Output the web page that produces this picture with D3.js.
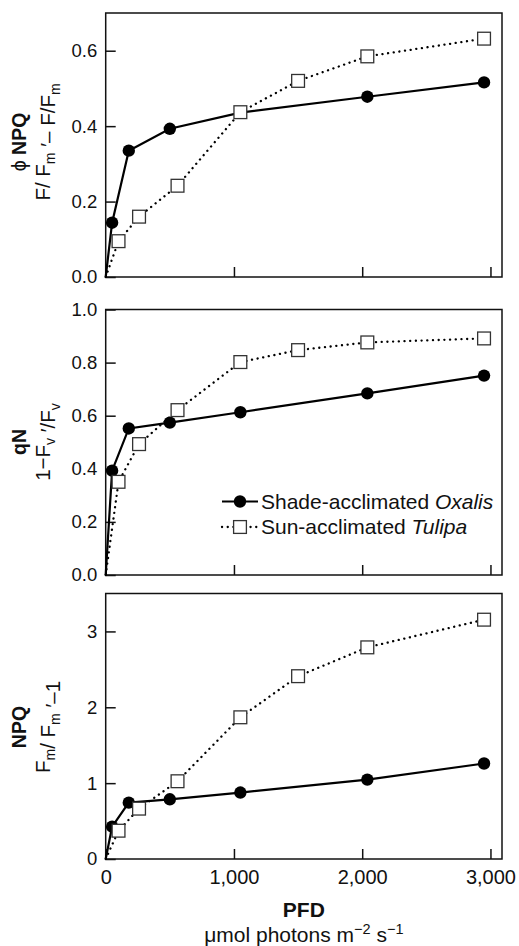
<!DOCTYPE html>
<html>
<head>
<meta charset="utf-8">
<script src="https://cdn.jsdelivr.net/npm/d3@7"></script>
<style>
  html, body { margin: 0; padding: 0; background: #fff; }
  svg { display: block; font-family: "Liberation Sans", Arial, Helvetica, sans-serif; }
</style>
</head>
<body>
<svg id="chart" width="519" height="946"></svg>
<script>
// ---- data ----
const pfdOxalis = [0, 50, 180, 500, 1050, 2040, 2950];
const pfdTulipa = [0, 100, 260, 560, 1050, 1500, 2040, 2950];

const phiNPQOxalis = [0, 0.144, 0.335, 0.393, 0.436, 0.478, 0.516];
const phiNPQTulipa = [0, 0.095, 0.160, 0.242, 0.437, 0.520, 0.585, 0.632];

const qNOxalis = [0, 0.393, 0.552, 0.574, 0.613, 0.684, 0.751];
const qNTulipa = [0, 0.351, 0.493, 0.621, 0.802, 0.847, 0.876, 0.891];

const npqOxalis = [0, 0.426, 0.743, 0.787, 0.876, 1.047, 1.259];
const npqTulipa = [0, 0.373, 0.664, 1.025, 1.868, 2.410, 2.790, 3.155];

const xTicks = [0, 1000, 2000, 3000];
const phiTicks = [0, 0.2, 0.4, 0.6];
const qNTicks = [0, 0.2, 0.4, 0.6, 0.8, 1.0];
const npqTicks = [0, 1, 2, 3];

const legendLabels = ["Shade-acclimated ", "Sun-acclimated "];
const legendGenus = ["Oxalis", "Tulipa"];

// ---- layout ----
const svg = d3.select("#chart");
const x = d3.scaleLinear().domain([0, 3090]).range([105.7, 502]);

const panels = [
  { oxalis: phiNPQOxalis, tulipa: phiNPQTulipa, ticks: phiTicks, fmt: d3.format(".1f"),
    domain: [0, 0.7], range: [277, 13], xLabels: false },
  { oxalis: qNOxalis, tulipa: qNTulipa, ticks: qNTicks, fmt: d3.format(".1f"),
    domain: [0, 1.0], range: [575, 309.5], xLabels: false },
  { oxalis: npqOxalis, tulipa: npqTulipa, ticks: npqTicks, fmt: d3.format("d"),
    domain: [0, 3.5], range: [859, 593.5], xLabels: true }
];

panels.forEach((p, i) => {
  const y = d3.scaleLinear().domain(p.domain).range(p.range);
  const g = svg.append("g");

  // frame
  g.append("rect")
    .attr("x", x.range()[0]).attr("y", p.range[1])
    .attr("width", x.range()[1] - x.range()[0])
    .attr("height", p.range[0] - p.range[1])
    .attr("fill", "none").attr("stroke", "#111").attr("stroke-width", 1.5);

  // y axis
  const ya = g.append("g").attr("transform", `translate(${x.range()[0]},0)`)
    .call(d3.axisLeft(y).tickValues(p.ticks).tickFormat(p.fmt)
      .tickSizeInner(-10).tickSizeOuter(0).tickPadding(8.5));
  ya.select(".domain").remove();
  ya.selectAll("line").attr("stroke", "#111").attr("stroke-width", 1.5);
  ya.selectAll("text").attr("font-size", 18.5).attr("fill", "#111")
    .attr("font-family", "Liberation Sans, Arial, sans-serif");

  // x axis
  const xa = g.append("g").attr("transform", `translate(0,${p.range[0]})`)
    .call(d3.axisBottom(x).tickValues(xTicks).tickFormat(p.xLabels ? d3.format(",") : () => "")
      .tickSizeInner(-10).tickSizeOuter(0).tickPadding(11));
  xa.select(".domain").remove();
  xa.selectAll("line").attr("stroke", "#111").attr("stroke-width", 1.5);
  xa.selectAll("text").attr("font-size", 20).attr("fill", "#111")
    .attr("font-family", "Liberation Sans, Arial, sans-serif");

  const line = d3.line().x(d => x(d[0])).y(d => y(d[1]));
  const oxData = pfdOxalis.map((v, k) => [v, p.oxalis[k]]);
  const tuData = pfdTulipa.map((v, k) => [v, p.tulipa[k]]);

  g.append("path").datum(oxData).attr("d", line)
    .attr("fill", "none").attr("stroke", "#000").attr("stroke-width", 2.2);
  g.append("path").datum(tuData).attr("d", line)
    .attr("fill", "none").attr("stroke", "#000").attr("stroke-width", 2.3)
    .attr("stroke-dasharray", "0.1,5.6").attr("stroke-linecap", "round");

  g.selectAll("circle.ox").data(oxData.filter(d => d[0] > 0)).enter()
    .append("circle").attr("class", "ox")
    .attr("cx", d => x(d[0])).attr("cy", d => y(d[1])).attr("r", 6.2)
    .attr("fill", "#000");
  const s = 12.8;
  g.selectAll("rect.tu").data(tuData.filter(d => d[0] > 0)).enter()
    .append("rect").attr("class", "tu")
    .attr("x", d => x(d[0]) - s / 2).attr("y", d => y(d[1]) - s / 2)
    .attr("width", s).attr("height", s)
    .attr("fill", "#fff").attr("stroke", "#333").attr("stroke-width", 1.3);
});

// ---- y-axis titles ----
function yTitle(cy, line1, line2) {
  const t1 = svg.append("text").attr("transform", `translate(26,${cy}) rotate(-90)`)
    .attr("text-anchor", "middle").attr("font-size", 19.5).attr("fill", "#111");
  line1.forEach(seg => t1.append("tspan").attr("font-weight", seg.b ? "bold" : "normal").text(seg.t));
  const t2 = svg.append("text").attr("transform", `translate(50,${cy}) rotate(-90)`)
    .attr("text-anchor", "middle").attr("font-size", 20.5).attr("fill", "#111");
  line2.forEach(seg => {
    if (seg.sub) {
      t2.append("tspan").attr("font-size", 14).attr("dy", 5).text(seg.t);
      t2.append("tspan").attr("dy", -5).text("");
    } else {
      t2.append("tspan").text(seg.t);
    }
  });
}
yTitle(142, [{ t: "\u03d5 " }, { t: "NPQ", b: true }],
  [{ t: "F/ F" }, { t: "m", sub: true }, { t: " \u2032\u2013 F/F" }, { t: "m", sub: true }]);
yTitle(442, [{ t: "qN", b: true }],
  [{ t: "1\u2212F" }, { t: "v", sub: true }, { t: " \u2032/F" }, { t: "v", sub: true }]);
yTitle(727, [{ t: "NPQ", b: true }],
  [{ t: "F" }, { t: "m", sub: true }, { t: "/ F" }, { t: "m", sub: true }, { t: " \u2032\u20131" }]);

// ---- x-axis title ----
const xc = (x.range()[0] + x.range()[1]) / 2;
svg.append("text").attr("x", xc).attr("y", 917).attr("text-anchor", "middle")
  .attr("font-size", 21).attr("font-weight", "bold").attr("fill", "#111").text("PFD");
const xt = svg.append("text").attr("x", xc).attr("y", 942).attr("text-anchor", "middle")
  .attr("font-size", 21).attr("fill", "#111");
xt.append("tspan").text("\u03bcmol photons m");
xt.append("tspan").attr("font-size", 14.5).attr("dy", -8).text("\u22122");
xt.append("tspan").attr("dy", 8).text(" s");
xt.append("tspan").attr("font-size", 14.5).attr("dy", -8).text("\u22121");

// ---- legend ----
const lg = svg.append("g");
const legRows = [501.5, 527];
[0, 1].forEach(i => {
  const yy = legRows[i];
  const l = lg.append("line").attr("x1", 222).attr("x2", 258).attr("y1", yy).attr("y2", yy)
    .attr("stroke", "#000");
  if (i === 0) {
    l.attr("stroke-width", 2.2);
    lg.append("circle").attr("cx", 240).attr("cy", yy).attr("r", 6.2).attr("fill", "#000");
  } else {
    l.attr("stroke-width", 2.3).attr("stroke-dasharray", "0.1,5.6").attr("stroke-linecap", "round");
    lg.append("rect").attr("x", 240 - 6.4).attr("y", yy - 6.4).attr("width", 12.8).attr("height", 12.8)
      .attr("fill", "#fff").attr("stroke", "#333").attr("stroke-width", 1.3);
  }
  const t = lg.append("text").attr("x", 261).attr("y", yy + 7).attr("font-size", 21).attr("fill", "#111");
  t.append("tspan").text(legendLabels[i]);
  t.append("tspan").attr("font-style", "italic").text(legendGenus[i]);
});
</script>
</body>
</html>
